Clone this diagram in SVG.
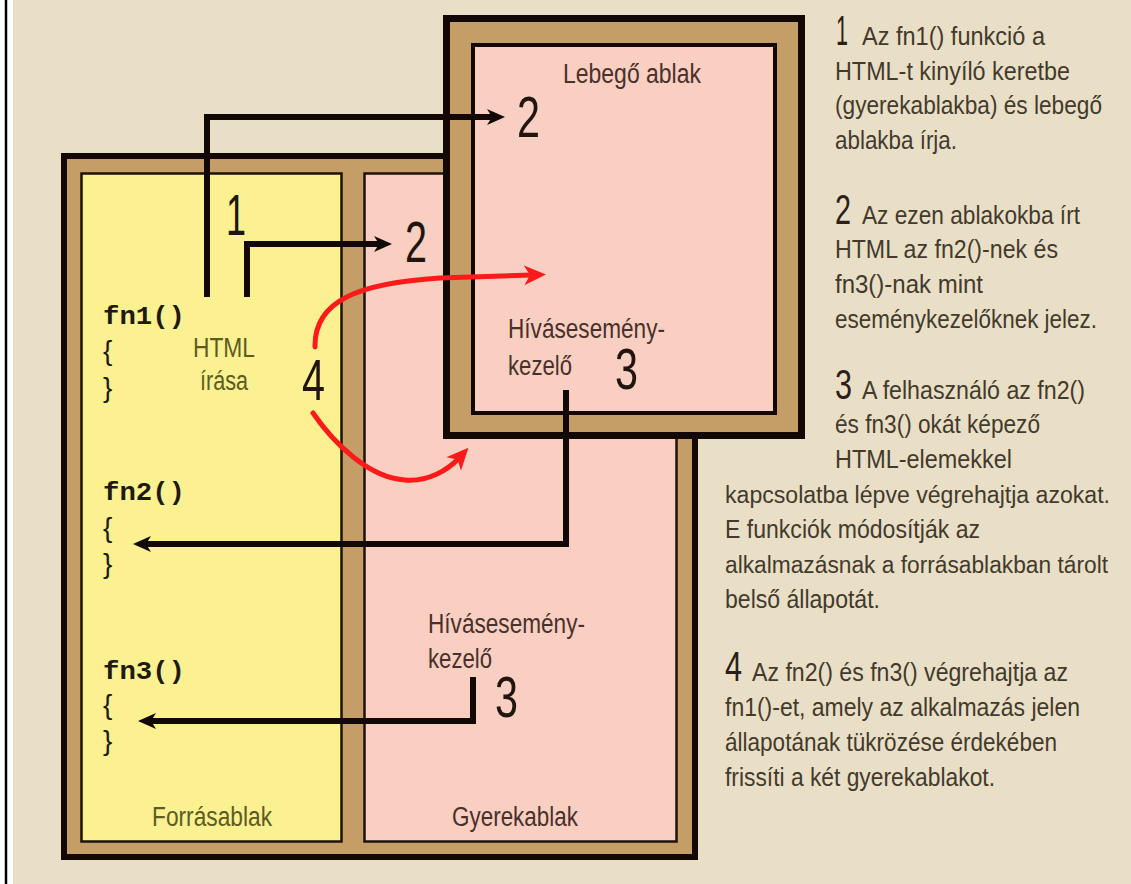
<svg xmlns="http://www.w3.org/2000/svg" width="1131" height="884" viewBox="0 0 1131 884">
<style>
.bg{fill:#E9DFC7}
.frame{fill:#C49E66;stroke:#140805;stroke-width:6}
.lframe{fill:#C49E66;stroke:#140805;stroke-width:7}
.yel{fill:#FBF191;stroke:#1c120a;stroke-width:2.5}
.pink{fill:#F9CFC2;stroke:#1c120a;stroke-width:2.5}
.lpink{fill:#F9CFC2;stroke:#140805;stroke-width:4}
.cond{font-family:"Liberation Sans Narrow","Liberation Sans",Arial,sans-serif}
.code{font-family:"Liberation Mono","DejaVu Sans Mono",monospace;font-weight:bold;font-size:25px;fill:#1e1a10}
.brace{font-family:"Liberation Sans Narrow","Liberation Sans",Arial,sans-serif;font-size:28px;fill:#1e1a10}
.olive{font-size:27px;fill:#5e5b22}
.brown{font-size:27px;fill:#4a302a}
.big{font-size:58px;fill:#22150f}
.leg{font-size:25px;fill:#433a2c}
.legs{font-size:23.5px}
.legnum{font-size:42px;fill:#2a2018}
.conn{fill:none;stroke:#120805;stroke-width:6;stroke-linejoin:miter}
.red{fill:none;stroke:#FF1A1A;stroke-width:5;stroke-linecap:round}
</style>
<defs>
<marker id="ah" markerUnits="userSpaceOnUse" viewBox="0 -9 18 18" markerWidth="18" markerHeight="18" refX="8" refY="0" orient="auto">
<path d="M0,-8 L18,0 L0,8 L5,0 z" fill="#120805"/>
</marker>
<marker id="ahr" markerUnits="userSpaceOnUse" viewBox="0 -11 22 22" markerWidth="22" markerHeight="22" refX="8" refY="0" orient="auto">
<path d="M0,-10 L22,0 L0,10 L6,0 z" fill="#FF1A1A"/>
</marker>
</defs>

<rect class="bg" x="0" y="0" width="1131" height="884"/>
<rect x="0" y="0" width="13" height="884" fill="#ffffff"/>
<line x1="6" y1="0" x2="6" y2="884" stroke="#000" stroke-width="2.5"/>

<g id="main-frame">
<rect class="frame" x="64" y="156" width="631" height="701"/>
<g id="forrasablak">
<rect class="yel" x="81.5" y="173.5" width="260" height="668"/>
<text class="code" x="103" y="324" textLength="82" lengthAdjust="spacingAndGlyphs">fn1()</text>
<text class="brace" x="103" y="360">{</text>
<text class="brace" x="103" y="397">}</text>
<text class="cond olive" x="193" y="357" textLength="62" lengthAdjust="spacingAndGlyphs">HTML</text>
<text class="cond olive" x="200" y="390" textLength="48" lengthAdjust="spacingAndGlyphs">írása</text>
<text class="code" x="103" y="500" textLength="82" lengthAdjust="spacingAndGlyphs">fn2()</text>
<text class="brace" x="103" y="537">{</text>
<text class="brace" x="103" y="573">}</text>
<text class="code" x="103" y="679" textLength="82" lengthAdjust="spacingAndGlyphs">fn3()</text>
<text class="brace" x="103" y="714">{</text>
<text class="brace" x="103" y="750">}</text>
<text class="cond olive" x="152" y="826" textLength="120" lengthAdjust="spacingAndGlyphs">Forrásablak</text>
</g>
<g id="gyerekablak">
<rect class="pink" x="364.5" y="173.5" width="312" height="668"/>
<text class="cond brown" x="428" y="633" textLength="157" lengthAdjust="spacingAndGlyphs">Hívásesemény-</text>
<text class="cond brown" x="428" y="668" textLength="64" lengthAdjust="spacingAndGlyphs">kezelő</text>
<text class="cond brown" x="452" y="826" textLength="126" lengthAdjust="spacingAndGlyphs">Gyerekablak</text>
</g>
</g>

<g id="lebego-ablak">
<rect class="lframe" x="446.5" y="18.5" width="355" height="417"/>
<rect class="lpink" x="473" y="45" width="302" height="368"/>
<text class="cond brown" x="563" y="83" textLength="138" lengthAdjust="spacingAndGlyphs">Lebegő ablak</text>
<text class="cond brown" x="508" y="338" textLength="157" lengthAdjust="spacingAndGlyphs">Hívásesemény-</text>
<text class="cond brown" x="508" y="375" textLength="64" lengthAdjust="spacingAndGlyphs">kezelő</text>
</g>

<g id="connectors">
<polyline class="conn" points="207,297 207,117 495,117" marker-end="url(#ah)"/>
<polyline class="conn" points="247,297 247,244 382,244" marker-end="url(#ah)"/>
<polyline class="conn" points="566,390 566,544 143,544" marker-end="url(#ah)"/>
<polyline class="conn" points="473,677 473,721 148,721" marker-end="url(#ah)"/>
<path class="red" d="M315,347 C314,300 360,283 440,278 L532,275" marker-end="url(#ahr)"/>
<path class="red" d="M313,413 C335,445 370,478 405,480 C428,482 448,470 459,458" marker-end="url(#ahr)"/>
</g>

<g id="step-numbers" class="cond big">
<text x="517" y="137" textLength="23" lengthAdjust="spacingAndGlyphs">2</text>
<text x="226" y="235" textLength="20" lengthAdjust="spacingAndGlyphs">1</text>
<text x="405" y="262" textLength="22" lengthAdjust="spacingAndGlyphs">2</text>
<text x="302" y="400" textLength="23" lengthAdjust="spacingAndGlyphs">4</text>
<text x="615" y="389" textLength="23" lengthAdjust="spacingAndGlyphs">3</text>
<text x="495" y="717" textLength="23" lengthAdjust="spacingAndGlyphs">3</text>
</g>

<g id="legend" class="cond">
<text class="legnum" x="836" y="45" textLength="12" lengthAdjust="spacingAndGlyphs">1</text>
<text class="leg" x="862" y="45" textLength="183" lengthAdjust="spacingAndGlyphs">Az fn1() funkció a</text>
<text class="leg" x="835" y="80" textLength="235" lengthAdjust="spacingAndGlyphs">HTML-t kinyíló keretbe</text>
<text class="leg" x="835" y="114" textLength="267" lengthAdjust="spacingAndGlyphs">(gyerekablakba) és lebegő</text>
<text class="leg" x="835" y="149" textLength="122" lengthAdjust="spacingAndGlyphs">ablakba írja.</text>
<text class="legnum" x="835" y="224" textLength="16" lengthAdjust="spacingAndGlyphs">2</text>
<text class="leg" x="862" y="224" textLength="218" lengthAdjust="spacingAndGlyphs">Az ezen ablakokba írt</text>
<text class="leg" x="835" y="258" textLength="223" lengthAdjust="spacingAndGlyphs">HTML az fn2()-nek és</text>
<text class="leg" x="835" y="293" textLength="148" lengthAdjust="spacingAndGlyphs">fn3()-nak mint</text>
<text class="leg" x="835" y="328" textLength="262" lengthAdjust="spacingAndGlyphs">eseménykezelőknek jelez.</text>
<text class="legnum" x="835" y="399" textLength="17" lengthAdjust="spacingAndGlyphs">3</text>
<text class="leg" x="862" y="399" textLength="223" lengthAdjust="spacingAndGlyphs">A felhasználó az fn2()</text>
<text class="leg" x="835" y="433" textLength="205" lengthAdjust="spacingAndGlyphs">és fn3() okát képező</text>
<text class="leg" x="835" y="468" textLength="177" lengthAdjust="spacingAndGlyphs">HTML-elemekkel</text>
<text class="leg legs" x="725" y="503" textLength="385" lengthAdjust="spacingAndGlyphs">kapcsolatba lépve végrehajtja azokat.</text>
<text class="leg" x="725" y="538" textLength="255" lengthAdjust="spacingAndGlyphs">E funkciók módosítják az</text>
<text class="leg legs" x="725" y="573" textLength="383" lengthAdjust="spacingAndGlyphs">alkalmazásnak a forrásablakban tárolt</text>
<text class="leg" x="725" y="608" textLength="155" lengthAdjust="spacingAndGlyphs">belső állapotát.</text>
<text class="legnum" x="725" y="681" textLength="17" lengthAdjust="spacingAndGlyphs">4</text>
<text class="leg" x="752" y="681" textLength="316" lengthAdjust="spacingAndGlyphs">Az fn2() és fn3() végrehajtja az</text>
<text class="leg" x="725" y="716" textLength="355" lengthAdjust="spacingAndGlyphs">fn1()-et, amely az alkalmazás jelen</text>
<text class="leg" x="725" y="751" textLength="332" lengthAdjust="spacingAndGlyphs">állapotának tükrözése érdekében</text>
<text class="leg" x="725" y="786" textLength="270" lengthAdjust="spacingAndGlyphs">frissíti a két gyerekablakot.</text>
</g>
</svg>
